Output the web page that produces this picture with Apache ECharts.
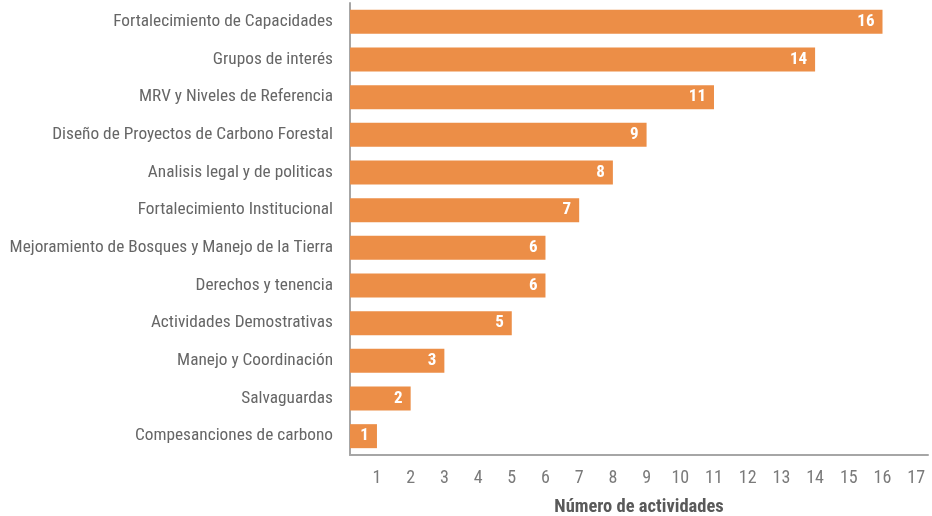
<!DOCTYPE html>
<html>
<head>
<meta charset="utf-8">
<script src="https://cdn.jsdelivr.net/npm/echarts@6/dist/echarts.min.js"></script>
<style>
html,body{margin:0;padding:0;background:#fff;}
#chart{width:932px;height:516px;}
</style>
</head>
<body>
<div id="chart"></div>
<script>
const categories = [
  "Fortalecimiento de Capacidades",
  "Grupos de interés",
  "MRV y Niveles de Referencia",
  "Diseño de Proyectos de Carbono Forestal",
  "Analisis legal y de politicas",
  "Fortalecimiento Institucional",
  "Mejoramiento de Bosques y Manejo de la Tierra",
  "Derechos y tenencia",
  "Actividades Demostrativas",
  "Manejo y Coordinación",
  "Salvaguardas",
  "Compesanciones de carbono"
];
const values = [16, 14, 11, 9, 8, 7, 6, 6, 5, 3, 2, 1];
const tickLabels = [1,2,3,4,5,6,7,8,9,10,11,12,13,14,15,16,17];
const axisTitle = "Número de actividades";

const FONT = "'Roboto Condensed', 'Fira Sans Condensed', sans-serif";
const chart = echarts.init(document.getElementById('chart'));
chart.setOption({
  animation: false,
  grid: { left: 350, top: 3, width: 578, height: 452, containLabel: false, outerBoundsMode: 'none' },
  xAxis: {
    type: 'value',
    min: 0.2,
    max: 17.35,
    axisLine: { show: true, lineStyle: { color: '#a6a6a6', width: 2 } },
    axisTick: { show: false },
    splitLine: { show: false },
    axisLabel: {
      customValues: tickLabels,
      color: '#7a7a7a',
      fontSize: 18,
      fontFamily: FONT,
      margin: 14
    },
    name: axisTitle,
    nameLocation: 'middle',
    nameGap: 43,
    nameTextStyle: { color: '#595959', fontSize: 18.5, fontWeight: 'bold', fontFamily: FONT }
  },
  yAxis: {
    type: 'category',
    data: categories,
    inverse: true,
    axisLine: { show: true, lineStyle: { color: '#a6a6a6', width: 2 } },
    axisTick: { show: false },
    axisLabel: { color: '#666666', fontSize: 17.3, fontFamily: FONT, margin: 17 }
  },
  series: [{
    type: 'bar',
    data: values,
    barWidth: 24,
    itemStyle: { color: '#EC8E47' },
    label: {
      show: true,
      position: 'insideRight',
      distance: 8,
      color: '#ffffff',
      fontSize: 17,
      fontWeight: 'bold',
      fontFamily: FONT
    }
  }]
});
</script>
</body>
</html>
